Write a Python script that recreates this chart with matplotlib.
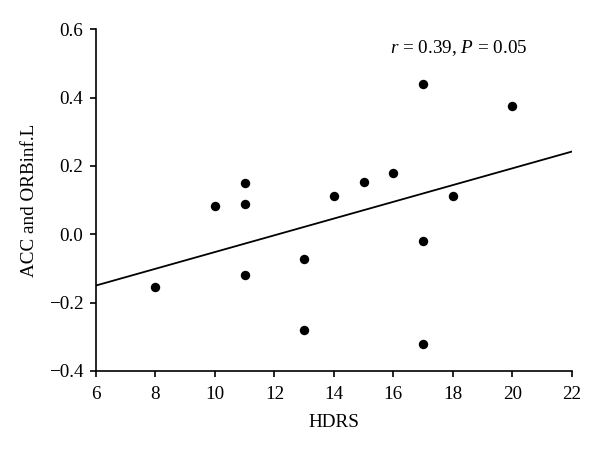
import numpy as np
import matplotlib.pyplot as plt

# --- data ----------------------------------------------------------------
hdrs = [8, 10, 11, 11, 11, 13, 13, 14, 15, 16, 17, 17, 17, 18, 20]
acc_orb = [-0.155, 0.083, 0.149, 0.089, -0.119, -0.072, -0.280, 0.112,
           0.152, 0.180, 0.439, -0.019, -0.321, 0.112, 0.376]

# regression line end points
fit_x = [6, 22]
fit_y = [-0.150, 0.242]

x_ticks = [6, 8, 10, 12, 14, 16, 18, 20, 22]
y_ticks = [-0.4, -0.2, 0.0, 0.2, 0.4, 0.6]

plt.rcParams["font.family"] = ["Liberation Serif", "DejaVu Serif"]
plt.rcParams["mathtext.fontset"] = "custom"
plt.rcParams["mathtext.rm"] = "Liberation Serif"
plt.rcParams["mathtext.it"] = "Liberation Serif:italic"

fig = plt.figure(figsize=(6.0, 4.54), dpi=100)
ax = fig.add_axes([0.16, 0.183, 0.793, 0.7525])

ax.plot(fit_x, fit_y, color="black", lw=1.3, zorder=2)
ax.scatter(hdrs, acc_orb, s=46, color="black", zorder=3, linewidths=0)

ax.set_xlim(6, 22)
ax.set_ylim(-0.4, 0.6)
ax.set_xticks(x_ticks)
ax.set_yticks(y_ticks)
ax.set_yticklabels([f"{v:.1f}".replace("-", "\u2212") for v in y_ticks])

for s in ("top", "right"):
    ax.spines[s].set_visible(False)
for s in ("left", "bottom"):
    ax.spines[s].set_linewidth(1.2)
ax.tick_params(direction="out", length=4, width=1.2, labelsize=13.8)
ax.tick_params(axis="x", pad=7)
ax.tick_params(axis="y", pad=5)

ax.set_xlabel("HDRS", fontsize=13.8, labelpad=8)
ax.set_ylabel("ACC and ORBinf.L", fontsize=13.8, labelpad=8)

ax.text(0.763, 0.945, r"$r$ = 0.39, $P$ = 0.05", transform=ax.transAxes,
        ha="center", va="center", fontsize=13.8)

fig.savefig("out.png", dpi=100)
